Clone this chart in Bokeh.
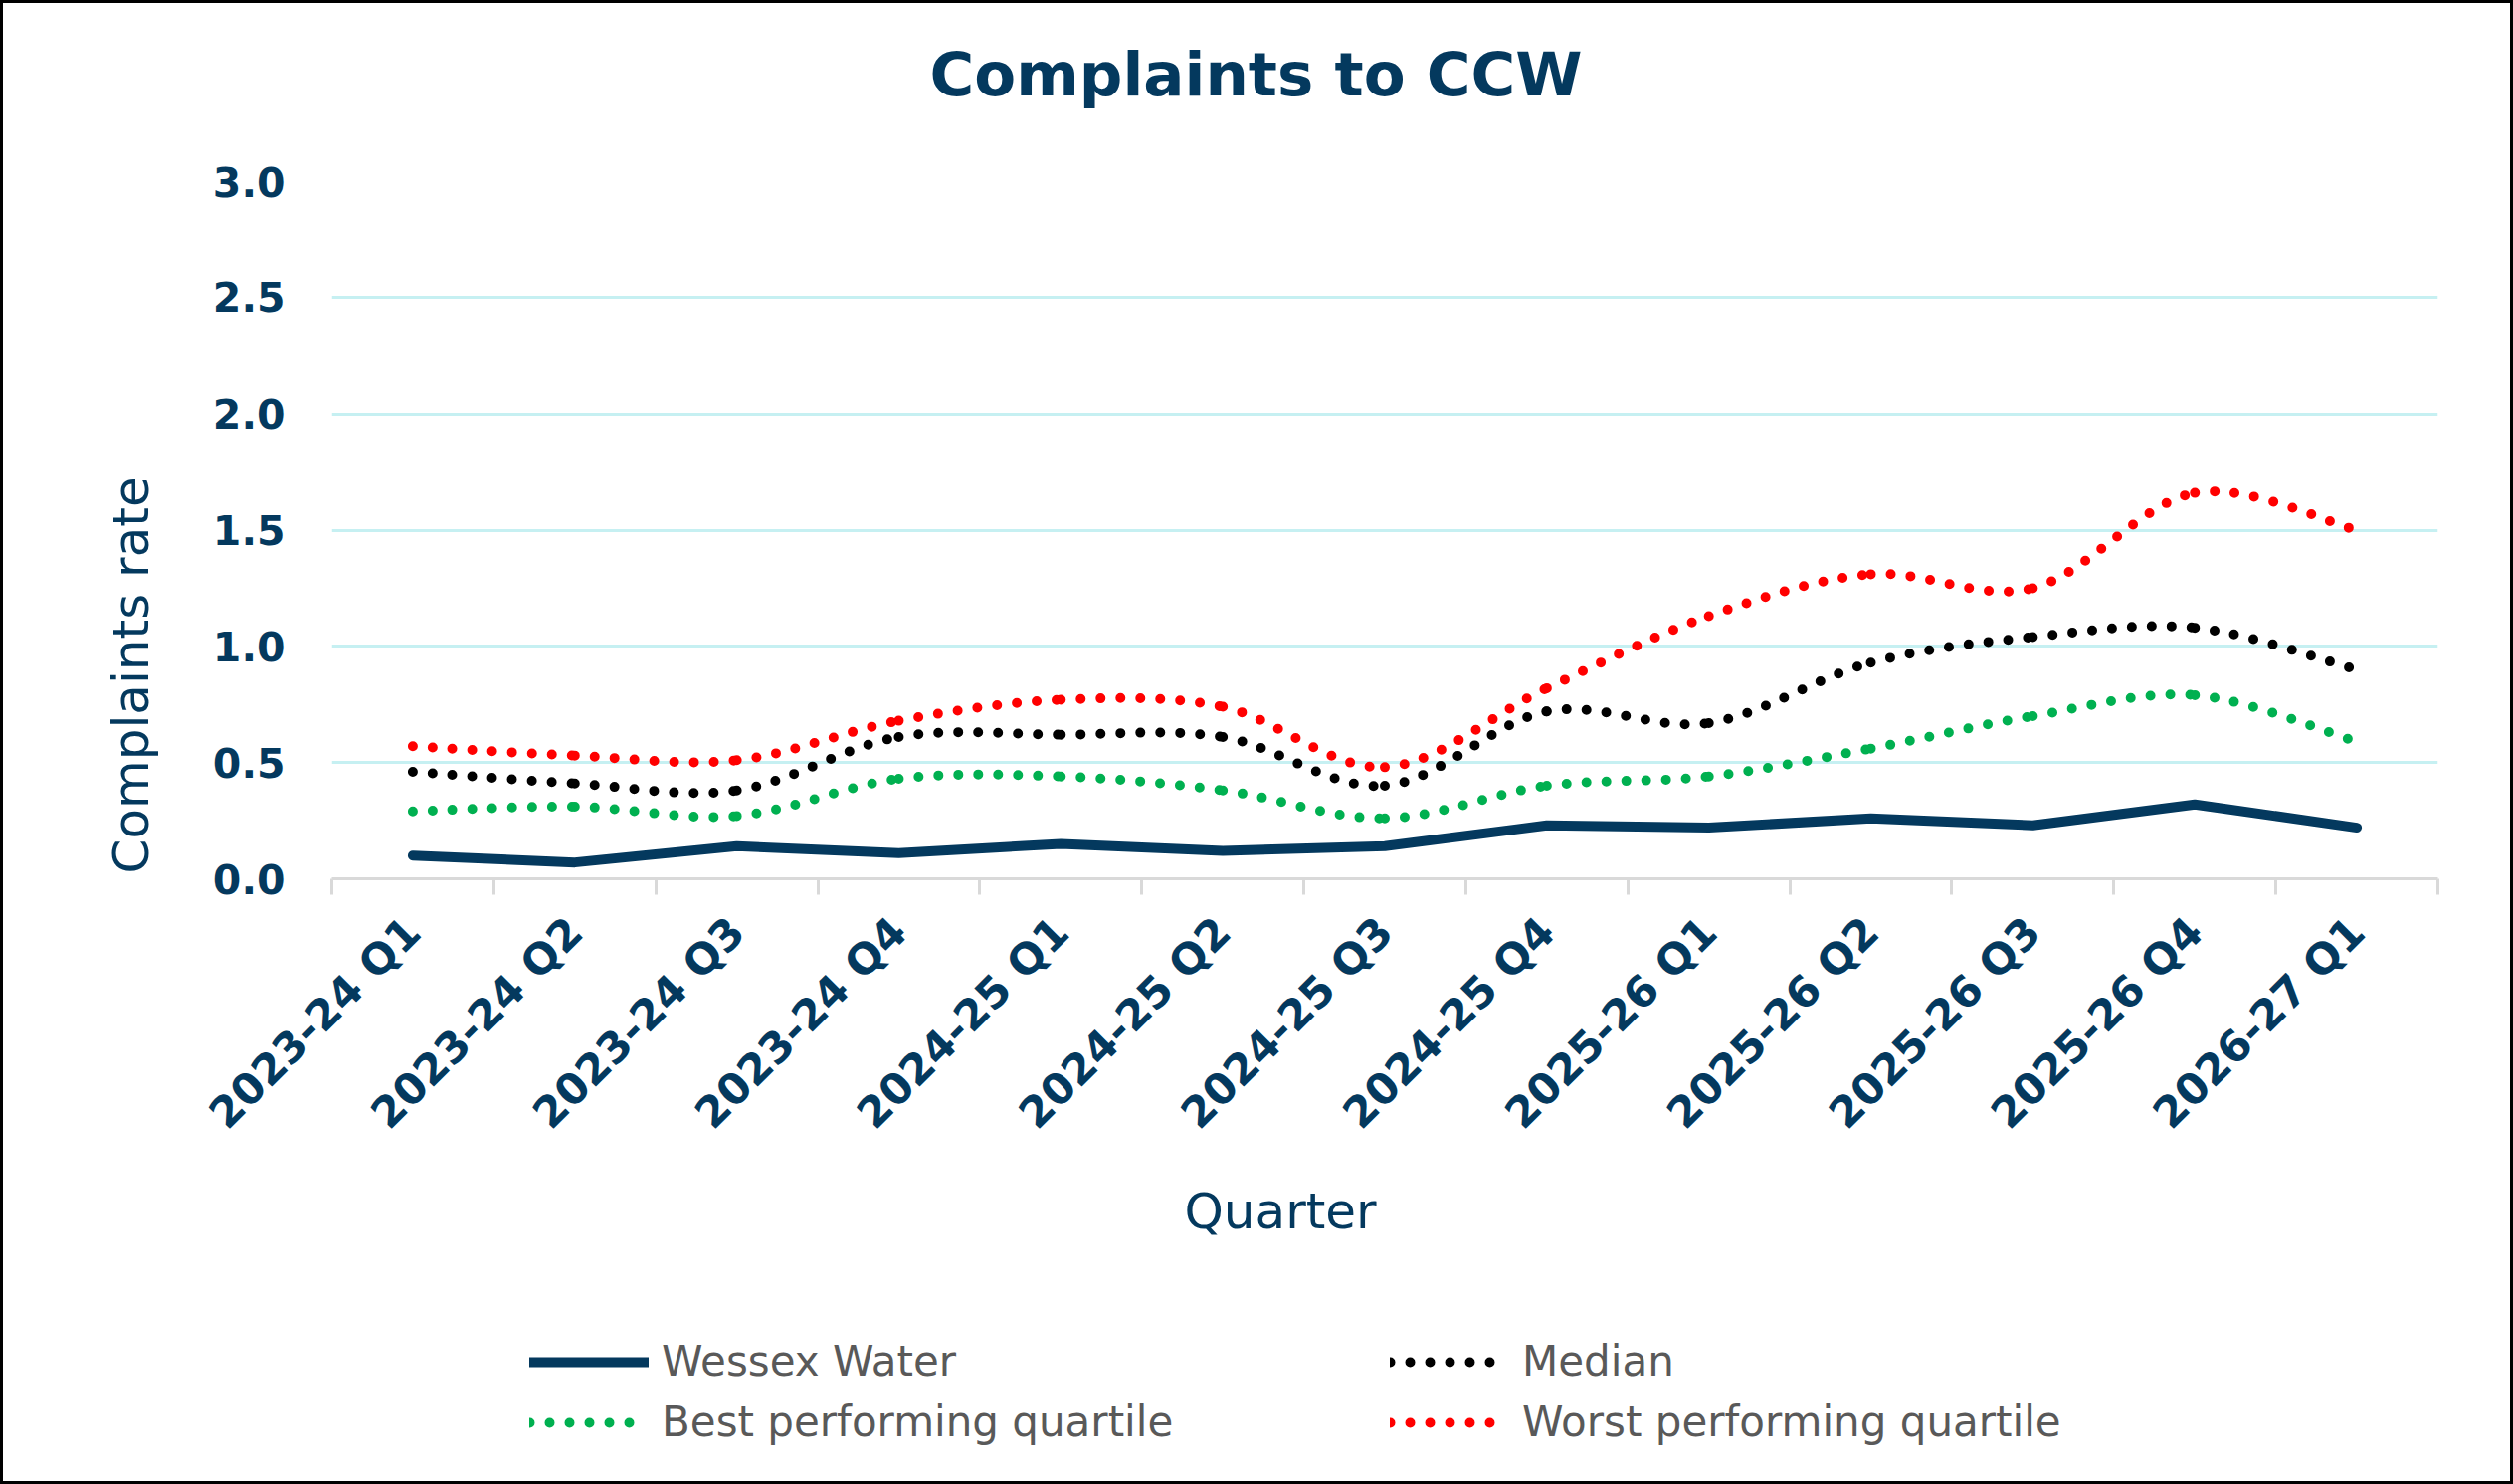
import math
from bokeh.plotting import figure
from bokeh.layouts import column
from bokeh.models import (Range1d, FixedTicker, NumeralTickFormatter, Legend, LegendItem, Title)
from bokeh.embed import file_html
from bokeh.resources import INLINE

# ---------------- data ----------------
quarters = ["2023-24 Q1", "2023-24 Q2", "2023-24 Q3", "2023-24 Q4",
            "2024-25 Q1", "2024-25 Q2", "2024-25 Q3", "2024-25 Q4",
            "2025-26 Q1", "2025-26 Q2", "2025-26 Q3", "2025-26 Q4",
            "2026-27 Q1"]
wessex = [0.10, 0.07, 0.14, 0.11, 0.15, 0.12, 0.14, 0.23, 0.22, 0.26, 0.23, 0.32, 0.22]
median = [0.46, 0.41, 0.38, 0.61, 0.62, 0.61, 0.40, 0.72, 0.67, 0.93, 1.04, 1.08, 0.90]
best = [0.29, 0.31, 0.27, 0.43, 0.44, 0.38, 0.26, 0.40, 0.44, 0.56, 0.70, 0.79, 0.59]
worst = [0.57, 0.53, 0.51, 0.68, 0.77, 0.74, 0.48, 0.82, 1.13, 1.31, 1.25, 1.66, 1.50]
y_ticks = [0.0, 0.5, 1.0, 1.5, 2.0, 2.5, 3.0]
series_names = ["Wessex Water", "Median", "Best performing quartile", "Worst performing quartile"]

NAVY = "#04395E"
FONT = "DejaVu Sans"
W = 2520

xs = list(range(len(quarters)))
x_range = Range1d(-0.5, len(quarters) - 0.5)
y_range = Range1d(0, 3.0)


def smooth(vals):
    n = len(vals)
    pts = list(zip(xs, vals))
    out = dict(x0=[], y0=[], x1=[], y1=[], cx0=[], cy0=[], cx1=[], cy1=[])
    for i in range(n - 1):
        p0 = pts[max(i - 1, 0)]
        p1 = pts[i]
        p2 = pts[i + 1]
        p3 = pts[min(i + 2, n - 1)]
        out["x0"].append(p1[0]); out["y0"].append(p1[1])
        out["x1"].append(p2[0]); out["y1"].append(p2[1])
        out["cx0"].append(p1[0] + (p2[0] - p0[0]) / 6.0)
        out["cy0"].append(p1[1] + (p2[1] - p0[1]) / 6.0)
        out["cx1"].append(p2[0] - (p3[0] - p1[0]) / 6.0)
        out["cy1"].append(p2[1] - (p3[1] - p1[1]) / 6.0)
    return out


def draw_series(fig, visible=True):
    dot_style = dict(line_width=10, line_dash="0 20", line_cap="round", visible=visible)
    rw = fig.line(xs, wessex, line_color=NAVY, line_width=10, line_cap="round",
                  line_join="round", visible=visible)
    rm = fig.bezier(**smooth(median), line_color="#000000", **dot_style)
    rb = fig.bezier(**smooth(best), line_color="#00B050", **dot_style)
    rr = fig.bezier(**smooth(worst), line_color="#FF0000", **dot_style)
    return [rw, rm, rb, rr]


# ---------------- title strip ----------------
p0 = figure(width=W, height=150, output_backend="svg", toolbar_location=None,
            x_axis_location=None, y_axis_location=None,
            min_border_left=0, min_border_right=0, min_border_top=0, min_border_bottom=0)
p0.outline_line_color = None
p0.grid.visible = False
p0.title.text = "Complaints to CCW"
p0.title.align = "left"
p0.title.offset = 601
p0.title.text_font = FONT
p0.title.text_font_size = "61px"
p0.title.text_font_style = "bold"
p0.title.text_color = NAVY
p0.title.standoff = 66

# ---------------- main chart ----------------
p = figure(width=W, height=1150, frame_width=2117, frame_height=701,
           output_backend="svg", toolbar_location=None,
           x_range=x_range, y_range=y_range,
           min_border_left=330, min_border_right=73, min_border_top=29,
           min_border_bottom=420)
p.title_location = None
p.outline_line_color = None

xa = p.below[0]
xa.ticker = FixedTicker(ticks=xs, minor_ticks=[i - 0.5 for i in range(len(quarters) + 1)])
xa.major_label_overrides = {i: q for i, q in enumerate(quarters)}
xa.major_label_orientation = math.pi / 4
xa.major_tick_out = 0
xa.major_tick_in = 0
xa.minor_tick_out = 16
xa.minor_tick_in = 0
xa.minor_tick_line_color = "#D9D9D9"
xa.minor_tick_line_width = 3
xa.axis_line_color = "#D9D9D9"
xa.axis_line_width = 3
xa.major_label_text_font = FONT
xa.major_label_text_font_size = "43px"
xa.major_label_text_font_style = "bold"
xa.major_label_text_color = NAVY
xa.major_label_standoff = 30

ya = p.left[0]
ya.ticker = FixedTicker(ticks=y_ticks)
ya.formatter = NumeralTickFormatter(format="0.0")
ya.axis_line_color = None
ya.major_tick_line_color = None
ya.minor_tick_line_color = None
ya.major_label_standoff = 41
ya.major_label_text_font = FONT
ya.major_label_text_font_size = "41px"
ya.major_label_text_font_style = "bold"
ya.major_label_text_color = NAVY

p.xgrid.visible = False
p.ygrid.grid_line_color = "#C6F0F2"
p.ygrid.grid_line_width = 3

p.add_layout(Title(text="Complaints rate", align="left", offset=5, text_font=FONT,
                   text_font_size="50px", text_font_style="normal", text_color=NAVY,
                   standoff=100), "left")
p.add_layout(Title(text="Quarter", align="left", offset=857, text_font=FONT,
                   text_font_size="50px", text_font_style="normal", text_color=NAVY,
                   standoff=42), "below")

draw_series(p, True)

# ---------------- legend strip ----------------
p2 = figure(width=W, height=186, output_backend="svg", toolbar_location=None,
            x_range=x_range, y_range=y_range,
            x_axis_location=None, y_axis_location=None,
            min_border_left=0, min_border_right=0, min_border_top=0, min_border_bottom=0)
p2.title_location = None
p2.outline_line_color = None
p2.grid.visible = False
legend_renderers = draw_series(p2, False)

legend = Legend(items=[LegendItem(label=n, renderers=[r])
                       for n, r in zip(series_names, legend_renderers)],
                orientation="horizontal", ncols=2, location=(199, 35),
                margin=0, padding=0, spacing=12, border_line_color=None,
                background_fill_alpha=0, inactive_fill_alpha=0,
                label_standoff=13, glyph_width=120, glyph_height=20, label_width=720,
                label_text_font=FONT, label_text_font_size="42px",
                label_text_color="#595959")
p2.add_layout(legend)

layout = column(p0, p, p2, spacing=0)
layout.styles = {"border": "3px solid black"}

open("out.html", "w").write(file_html(layout, INLINE))
